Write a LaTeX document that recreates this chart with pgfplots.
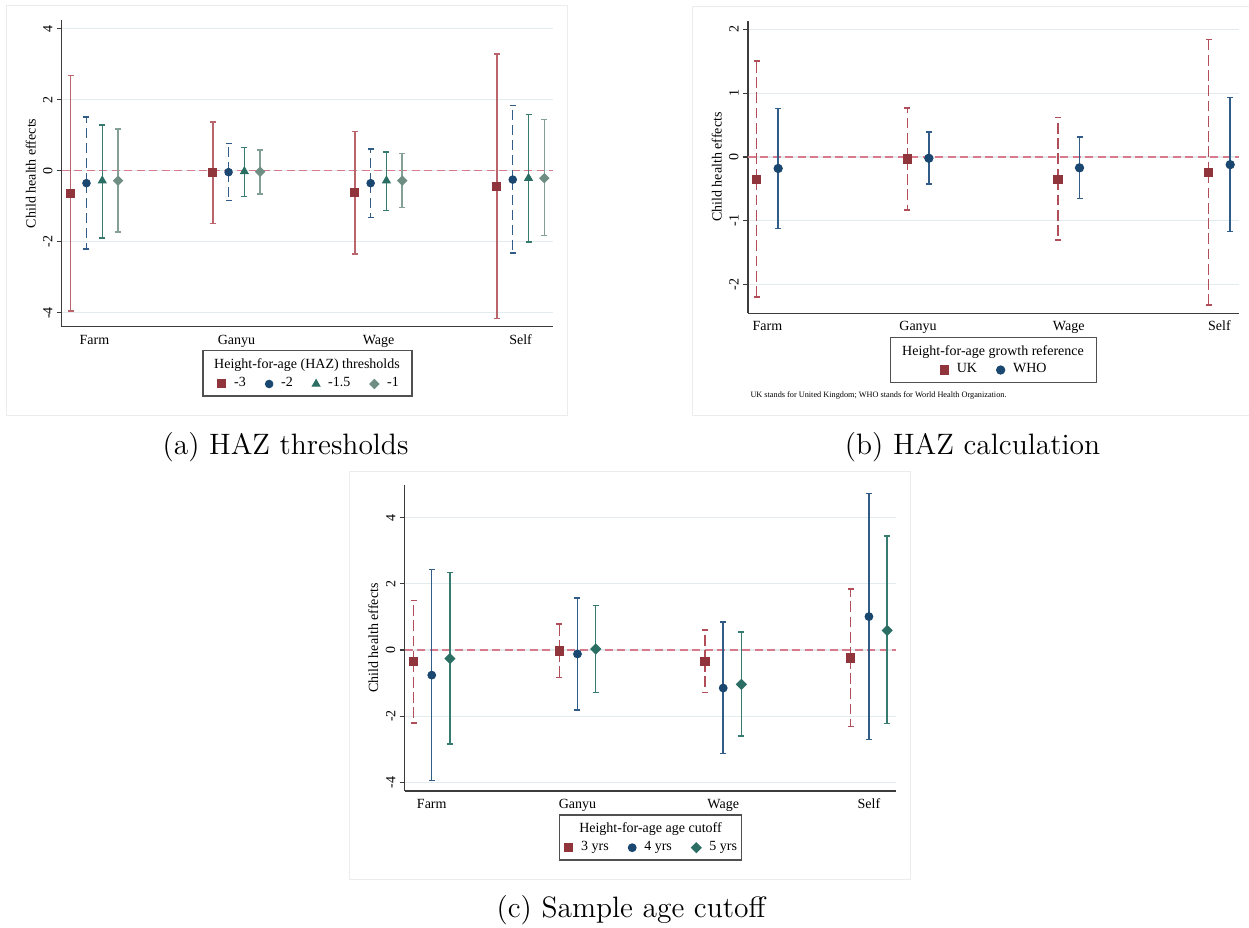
\documentclass[border=0pt]{standalone}
\usepackage{fontspec}
\usepackage{pgfplots}
\pgfplotsset{compat=1.18}
\usepackage{pgfplotstable}
\newfontfamily\tnr{Liberation Serif}
\newcommand\gfont{\tnr\fontsize{5.6}{6.7}\selectfont}
\newcommand\notefont{\tnr\fontsize{3.3}{4}\selectfont}

\definecolor{sMaroon}{RGB}{144,53,59}
\definecolor{sMaroonCI}{RGB}{186,100,108}
\definecolor{sMaroonDash}{RGB}{178,78,90}
\definecolor{sNavy}{RGB}{26,71,111}
\definecolor{sNavyCI}{RGB}{48,92,135}
\definecolor{sTealDk}{RGB}{42,110,100}
\definecolor{sTealDkCI}{RGB}{55,122,112}
\definecolor{sTeal}{RGB}{110,142,132}
\definecolor{sTealCI}{RGB}{132,160,150}
\definecolor{refline}{RGB}{214,122,140}
\definecolor{gridc}{RGB}{226,236,239}
\definecolor{axisc}{RGB}{60,60,60}
\definecolor{framec}{RGB}{236,236,236}
\definecolor{legc}{RGB}{80,80,80}

% (a) HAZ thresholds: x, estimate, lower and upper bound
\pgfplotstableread{
x  y     lo    hi
0  -0.63 -3.95 2.68
9  -0.06 -1.49 1.37
18 -0.62 -2.35 1.11
27 -0.44 -4.16 3.29
}\thrA
\pgfplotstableread{
x  y     lo    hi
1  -0.35 -2.20 1.51
10 -0.04 -0.84 0.76
19 -0.35 -1.31 0.61
28 -0.25 -2.32 1.84
}\thrB
\pgfplotstableread{
x  y     lo    hi
2  -0.28 -1.90 1.29
11 -0.02 -0.72 0.66
20 -0.28 -1.12 0.53
29 -0.21 -2.00 1.58
}\thrC
\pgfplotstableread{
x  y     lo    hi
3  -0.28 -1.73 1.18
12 -0.03 -0.65 0.58
21 -0.28 -1.03 0.48
30 -0.21 -1.82 1.44
}\thrD
% (b) growth reference
\pgfplotstableread{
x  y     lo    hi
0  -0.35 -2.19 1.50
7  -0.03 -0.83 0.77
14 -0.35 -1.30 0.62
21 -0.24 -2.32 1.84
}\refUK
\pgfplotstableread{
x  y     lo    hi
1  -0.18 -1.12 0.76
8  -0.02 -0.42 0.39
15 -0.17 -0.65 0.31
22 -0.12 -1.17 0.93
}\refWHO
% (c) sample age cutoff
\pgfplotstableread{
x  y     lo    hi
0  -0.35 -2.20 1.50
8  -0.03 -0.83 0.78
16 -0.34 -1.29 0.61
24 -0.24 -2.31 1.85
}\ageThree
\pgfplotstableread{
x  y     lo    hi
1  -0.76 -3.94 2.44
9  -0.12 -1.81 1.57
17 -1.15 -3.13 0.85
25  1.01 -2.71 4.73
}\ageFour
\pgfplotstableread{
x  y     lo    hi
2  -0.26 -2.84 2.34
10  0.03 -1.28 1.35
18 -1.04 -2.60 0.54
26  0.59 -2.22 3.44
}\ageFive

\pgfplotsset{
  statapanel/.style={
    scale only axis,
    axis x line*=bottom, axis y line*=left,
    axis line style={axisc, line width=0.55pt},
    ymajorgrids, grid style={gridc, line width=0.45pt},
    xtick style={draw=none},
    ytick style={axisc, line width=0.45pt},
    tick align=outside, major tick length=2pt,
    yticklabel style={rotate=90, anchor=south, inner sep=0pt, font=\gfont},
    yticklabel shift=1.5pt,
    xticklabel style={anchor=north, inner sep=0pt, text height=4pt, text depth=1.3pt, yshift=-0.8pt, font=\gfont},
    ylabel={Child health effects},
    every axis y label/.style={at={(axis description cs:-0.063,0.5)}, rotate=90, anchor=center, font=\gfont},
    clip=false,
    legend columns=-1,
    legend style={draw=none, fill=none, inner sep=0pt, font=\gfont,
      nodes={inner sep=0pt},
      /tikz/every odd column/.append style={column sep=3.3pt},
      /tikz/every even column/.append style={column sep=7.8pt}},
    legend image code/.code={\draw[##1] plot coordinates {(0pt,0pt)};},
  },
  ci/.style n args={4}{% mark, marker options, bar colour, bar dash
    only marks, mark=#1, mark options={solid, #2},
    error bars/.cd, y dir=both, y explicit,
    error bar style={color=#3, line width=0.6pt, #4},
    error mark options={rotate=90, solid, color=#3, mark size=1.2pt, line width=0.6pt},
  },
  /pgfplots/table/citab/.style={x=x, y=y,
    y error plus expr=\thisrow{hi}-\thisrow{y},
    y error minus expr=\thisrow{y}-\thisrow{lo}},
}

\begin{document}
\begin{tikzpicture}
\useasboundingbox (0,0) rectangle (499.6pt,-371.2pt);

% panel frames
\draw[framec, line width=0.4pt] (2.4pt,-2.4pt) rectangle (226.9pt,-166pt);
\draw[framec, line width=0.4pt] (499.6pt,-2.8pt) -- (276.8pt,-2.8pt) -- (276.8pt,-166pt) -- (499.6pt,-166pt);
\draw[framec, line width=0.4pt] (139.6pt,-188.4pt) rectangle (364pt,-351.6pt);

% (a) HAZ thresholds
\begin{axis}[statapanel,
  at={(24.68pt,-8pt)}, anchor=north west,
  width=196.64pt, height=122.68pt,
  xmin=-0.57, xmax=30.57, ymin=-4.39, ymax=4.243,
  xtick={1.5,10.5,19.5,28.5}, xticklabels={Farm,Ganyu,Wage,Self},
  ytick={-4,-2,0,2,4}, yticklabels={-4,-2,0,2,4},
  legend style={at={(rel axis cs:0.3169,-0.1868)}, anchor=west},
]
\addplot[refline, line width=0.5pt, dash pattern=on 3.2pt off 1.8pt, forget plot] coordinates {(-0.57,0) (30.57,0)};
\addplot[ci={square*}{sMaroon, mark size=1.6pt}{sMaroonCI}{}] table[citab] {\thrA};
\addlegendentry{-3}
\addplot[ci={*}{sNavy, mark size=1.5pt}{sNavyCI}{dash pattern=on 4pt off 2pt}] table[citab] {\thrB};
\addlegendentry{-2}
\addplot[ci={triangle*}{sTealDk, mark size=1.75pt}{sTealDkCI}{}] table[citab] {\thrC};
\addlegendentry{-1.5}
\addplot[ci={square*}{sTeal, mark size=1.28pt, rotate=45}{sTealCI}{}] table[citab] {\thrD};
\addlegendentry{-1}
\end{axis}
\draw[legc, line width=0.5pt] (81.2pt,-140.2pt) rectangle (164.8pt,-158.4pt);
\node[font=\gfont, inner sep=0pt] at (122.8pt,-146pt) {Height-for-age (HAZ) thresholds};

% (b) HAZ calculation
\begin{axis}[statapanel,
  at={(299.12pt,-8.28pt)}, anchor=north west,
  width=196.48pt, height=117.04pt,
  xmin=-0.41, xmax=22.41, ymin=-2.449, ymax=2.135,
  xtick={0.5,7.5,14.5,21.5}, xticklabels={Farm,Ganyu,Wage,Self},
  ytick={-2,-1,0,1,2}, yticklabels={-2,-1,0,1,2},
  every axis y label/.style={at={(axis description cs:-0.0633,0.5)}, rotate=90, anchor=center, font=\gfont},
  legend style={at={(rel axis cs:0.3909,-0.1938)}, anchor=west},
]
\addplot[refline, line width=0.5pt, dash pattern=on 3.2pt off 1.8pt, forget plot] coordinates {(-0.41,0) (22.41,0)};
\addplot[ci={square*}{sMaroon, mark size=1.65pt}{sMaroonDash}{dash pattern=on 4.3pt off 1.8pt}] table[citab] {\refUK};
\addlegendentry{UK}
\addplot[ci={*}{sNavy, mark size=1.65pt}{sNavyCI}{}] table[citab] {\refWHO};
\addlegendentry{WHO}
\end{axis}
\draw[legc, line width=0.5pt] (356.28pt,-135.08pt) rectangle (438.56pt,-152.92pt);
\node[font=\gfont, inner sep=0pt] at (397.2pt,-140.68pt) {Height-for-age growth reference};
\node[font=\notefont, inner sep=0pt, anchor=west] at (300pt,-158pt) {UK stands for United Kingdom; WHO stands for World Health Organization.};

% (c) Sample age cutoff
\begin{axis}[statapanel,
  at={(161.84pt,-194pt)}, anchor=north west,
  width=196.44pt, height=122.4pt,
  xmin=-0.49, xmax=26.47, ymin=-4.263, ymax=4.988,
  xtick={1,9,17,25}, xticklabels={Farm,Ganyu,Wage,Self},
  ytick={-4,-2,0,2,4}, yticklabels={-4,-2,0,2,4},
  every axis y label/.style={at={(axis description cs:-0.064,0.5)}, rotate=90, anchor=center, font=\gfont},
  legend style={at={(rel axis cs:0.325,-0.1853)}, anchor=west},
]
\addplot[refline, line width=0.5pt, dash pattern=on 3.2pt off 1.8pt, forget plot] coordinates {(-0.49,0) (26.47,0)};
\addplot[ci={square*}{sMaroon, mark size=1.65pt}{sMaroonDash}{dash pattern=on 4.3pt off 1.8pt}] table[citab] {\ageThree};
\addlegendentry{3 yrs}
\addplot[ci={*}{sNavy, mark size=1.55pt}{sNavyCI}{}] table[citab] {\ageFour};
\addlegendentry{4 yrs}
\addplot[ci={square*}{sTealDk, mark size=1.38pt, rotate=45}{sTealDkCI}{}] table[citab] {\ageFive};
\addlegendentry{5 yrs}
\end{axis}
\draw[legc, line width=0.5pt] (223.72pt,-326pt) rectangle (296.56pt,-344pt);
\node[font=\gfont, inner sep=0pt] at (260.2pt,-331.6pt) {Height-for-age age cutoff};

% sub-figure captions
\node[font=\fontsize{11.8}{14}\selectfont, inner sep=0pt] at (114.2pt,-178.8pt) {(a) HAZ thresholds};
\node[font=\fontsize{11.8}{14}\selectfont, inner sep=0pt] at (389pt,-178.8pt) {(b) HAZ calculation};
\node[font=\fontsize{11.8}{14}\selectfont, inner sep=0pt] at (252.4pt,-364pt) {(c) Sample age cutoff};
\end{tikzpicture}
\end{document}
